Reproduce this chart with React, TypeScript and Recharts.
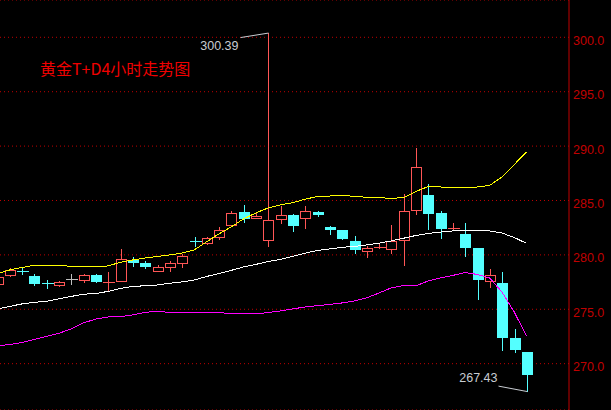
import React from 'react';
import { ComposedChart, Bar, Line, XAxis, YAxis, CartesianGrid } from 'recharts';

// 4-hour candles, oldest first (index 0 is only partly visible at the left edge)
const opens = [
  277.30, 278.13, 278.51, 278.06, 277.37, 277.26, 277.76, 277.72, 278.18, 277.55,
  277.63, 279.53, 279.23, 278.55, 278.92, 279.28, 281.27, 281.12, 281.61, 282.78,
  283.91, 283.36, 281.40, 283.33, 283.67, 283.42, 283.94, 282.56, 282.29, 281.28,
  280.39, 280.68, 280.57, 281.34, 284.10, 285.51, 283.85, 282.45, 281.92, 280.63,
  277.63, 277.42, 272.36, 271.08,
];
const highs = [
  278.10, 278.77, 278.79, 278.25, 277.69, 277.60, 278.27, 278.27, 278.25, 278.43,
  280.54, 279.84, 279.47, 279.10, 279.47, 280.08, 281.67, 281.67, 282.54, 284.01,
  284.59, 283.88, 300.39, 284.52, 283.76, 284.50, 284.03, 282.66, 282.29, 281.74,
  280.82, 281.12, 282.75, 285.60, 289.83, 286.52, 284.04, 282.93, 282.90, 280.63,
  278.68, 278.43, 273.19, 271.08,
];
const lows = [
  277.20, 277.94, 278.16, 277.17, 276.84, 277.08, 277.23, 277.44, 277.42, 276.71,
  277.54, 278.92, 278.70, 278.40, 278.46, 278.77, 280.75, 280.94, 281.37, 282.59,
  282.90, 283.27, 280.75, 282.87, 282.13, 282.38, 283.51, 281.83, 281.37, 280.08,
  279.74, 280.54, 280.05, 278.98, 283.69, 282.29, 281.49, 282.23, 279.78, 275.85,
  276.96, 271.14, 271.01, 267.43,
];
const closes = [
  277.94, 278.61, 278.47, 277.35, 277.33, 277.51, 277.76, 278.15, 277.51, 277.59,
  279.60, 279.23, 278.92, 278.89, 279.26, 279.90, 281.23, 281.55, 282.26, 283.82,
  283.30, 283.57, 283.18, 283.67, 282.68, 284.01, 283.67, 282.31, 281.49, 280.45,
  280.63, 280.72, 281.28, 284.04, 288.05, 283.76, 282.41, 282.49, 280.63, 277.69,
  278.13, 272.36, 271.26, 268.99,
];

// band lines (upper / middle / lower)
const upperBand = [
  278.24, 278.61, 278.84, 279.04, 279.04, 279.04, 278.95, 278.95, 278.95, 278.98,
  279.32, 279.53, 279.71, 279.85, 279.99, 280.17, 280.45, 281.19, 281.92, 282.56,
  283.30, 283.85, 284.31, 284.59, 284.80, 285.11, 285.37, 285.41, 285.46, 285.39,
  285.29, 285.26, 285.20, 285.26, 285.83, 286.27, 286.24, 286.19, 286.19, 286.24,
  286.38, 287.16, 288.30, 289.47,
];
const midBand = [
  275.03, 275.26, 275.49, 275.63, 275.74, 275.95, 276.18, 276.38, 276.45, 276.64,
  276.91, 277.10, 277.16, 277.23, 277.39, 277.51, 277.69, 278.01, 278.29, 278.57,
  278.89, 279.12, 279.39, 279.59, 279.87, 280.15, 280.41, 280.54, 280.70, 280.77,
  280.91, 281.07, 281.28, 281.53, 281.78, 281.97, 282.10, 282.20, 282.24, 282.24,
  282.20, 282.01, 281.60, 281.06,
];
const lowerBand = [
  271.67, 271.74, 271.95, 272.22, 272.50, 272.79, 273.19, 273.74, 274.10, 274.29,
  274.32, 274.48, 274.72, 274.80, 274.72, 274.72, 274.72, 274.72, 274.72, 274.57,
  274.57, 274.57, 274.70, 274.84, 275.03, 275.21, 275.33, 275.44, 275.58, 275.76,
  276.04, 276.49, 276.96, 277.19, 277.14, 277.60, 277.88, 278.11, 278.38, 278.20,
  277.88, 276.59, 274.75, 272.54,
];

const yTicks = [270, 275, 280, 285, 290, 295, 300];

const rows = opens.map((o, i) => ({
  i,
  open: o,
  high: highs[i],
  low: lows[i],
  close: closes[i],
  upper: upperBand[i],
  mid: midBand[i],
  lower: lowerBand[i],
}));

const maxHigh = Math.max(...highs);
const minLow = Math.min(...lows);

const UP = '#ff5656';
const DOWN = '#54ffff';
const FLAT = '#c0c0c0';
const NOTE = '#c8ccd2';

function Candle(props: any) {
  const { x, y, width, height, payload } = props;
  if (!payload || x == null) return null;
  const { open, close, high, low } = payload;
  const top = Math.min(y, y + height);
  const h = Math.abs(height);
  const k = high > low ? h / (high - low) : 0;
  const py = (v: number) => top + (high - v) * k;
  const cx = Math.round(x + width / 2) + 0.5;
  const diff = close - open;
  const color = diff > 0 ? UP : diff < 0 ? DOWN : FLAT;
  const yH = py(high);
  const yL = py(low);

  let body;
  if (Math.abs(diff) < 0.1) {
    const yy = Math.round(py(open)) + 0.5;
    body = (
      <g>
        <line x1={cx} x2={cx} y1={yH} y2={yL} stroke={color} />
        <line x1={cx - 6} x2={cx + 6} y1={yy} y2={yy} stroke={color} />
      </g>
    );
  } else if (diff > 0) {
    const t = Math.round(py(close));
    const b = Math.round(py(open));
    body = (
      <g>
        <line x1={cx} x2={cx} y1={yH} y2={t} stroke={color} />
        <line x1={cx} x2={cx} y1={b} y2={yL} stroke={color} />
        <rect x={cx - 5} y={t + 0.5} width={10} height={b - t} fill="#000" stroke={color} />
      </g>
    );
  } else {
    const t = Math.round(py(open));
    const b = Math.round(py(close));
    body = (
      <g>
        <line x1={cx} x2={cx} y1={yH} y2={yL} stroke={color} />
        <rect x={cx - 5.5} y={t} width={11} height={Math.max(1, b - t)} fill={color} />
      </g>
    );
  }

  return (
    <g shapeRendering="crispEdges">
      {body}
      {high === maxHigh && (
        <g>
          <line x1={cx - 28} y1={yH + 4.5} x2={cx} y2={yH} stroke={NOTE} shapeRendering="auto" />
          <text x={cx - 30} y={yH + 17} textAnchor="end" fill={NOTE} fontSize={12.5} fontFamily="Liberation Sans">
            {high.toFixed(2)}
          </text>
        </g>
      )}
      {low === minLow && (
        <g>
          <line x1={cx - 29} y1={yL - 5.5} x2={cx} y2={yL} stroke={NOTE} shapeRendering="auto" />
          <text x={cx - 30} y={yL - 9.5} textAnchor="end" fill={NOTE} fontSize={12.5} fontFamily="Liberation Sans">
            {low.toFixed(2)}
          </text>
        </g>
      )}
    </g>
  );
}

const renderTick = (p: any) => (
  <text x={573} y={p.y + 7.5} fill="#c00000" fontSize={12.5} fontFamily="Liberation Sans">
    {Number(p.payload.value).toFixed(1)}
  </text>
);

export default function App() {
  return (
    <div style={{ position: 'relative', width: 611, height: 410, background: '#000', overflow: 'hidden' }}>
      <style>{'body{margin:0;background:#000}'}</style>
      <ComposedChart width={611} height={410} data={rows} margin={{ top: 0, right: 0, bottom: 0, left: 0 }}>
        <CartesianGrid vertical={false} stroke="#c00000" strokeDasharray="1 3" />
        <XAxis type="number" dataKey="i" domain={[0.227, 46.45]} allowDataOverflow hide />
        <YAxis
          orientation="right"
          width={42}
          domain={[265.74, 303.43]}
          ticks={yTicks}
          allowDataOverflow
          stroke="#c00000"
          tickLine={false}
          tick={renderTick}
        />
        <Bar
          dataKey={(d: any) => [d.low, d.high]}
          barSize={11}
          shape={<Candle />}
          isAnimationActive={false}
        />
        <Line type="linear" dataKey="lower" stroke="#ff00ff" dot={false} strokeWidth={1} shapeRendering="crispEdges" isAnimationActive={false} />
        <Line type="linear" dataKey="mid" stroke="#ffffff" dot={false} strokeWidth={1} shapeRendering="crispEdges" isAnimationActive={false} />
        <Line type="linear" dataKey="upper" stroke="#ffff00" dot={false} strokeWidth={1} shapeRendering="crispEdges" isAnimationActive={false} />
      </ComposedChart>
      <div
        style={{
          position: 'absolute',
          left: 40,
          top: 60,
          color: '#f00000',
          fontSize: 16,
          lineHeight: '16px',
          fontFamily: '"Noto Sans CJK SC", sans-serif',
          whiteSpace: 'nowrap',
        }}
      >
        黄金T+D4小时走势图
      </div>
    </div>
  );
}
